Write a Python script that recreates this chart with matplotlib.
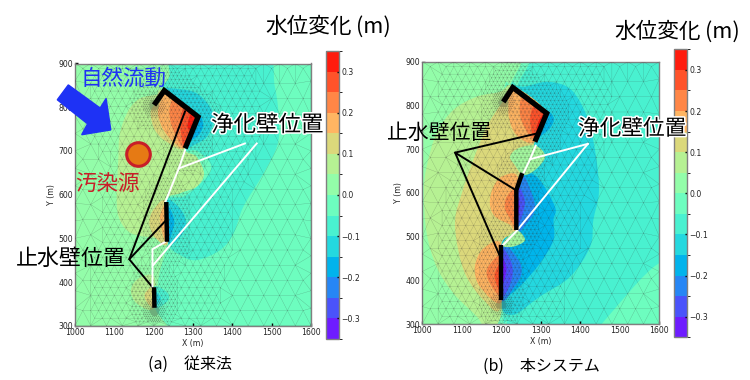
import numpy as np
import matplotlib
matplotlib.use('Agg')
import matplotlib.pyplot as plt
import matplotlib.patheffects as pe
from matplotlib.cm import ScalarMappable
from matplotlib.colors import BoundaryNorm, ListedColormap
from matplotlib.patches import PathPatch
from matplotlib.path import Path
from matplotlib.tri import Triangulation

JP = ['Noto Sans CJK JP', 'DejaVu Sans']

levels = np.arange(-0.35, 0.351, 0.05)
cbar_ticks = [-0.3, -0.2, -0.1, 0.0, 0.1, 0.2, 0.3]
x_ticks = [1000, 1100, 1200, 1300, 1400, 1500, 1600]
y_ticks = [300, 400, 500, 600, 700, 800, 900]

# ---- panel (a): walls and leader lines
a_wall1_x = [1201, 1227, 1313, 1280]
a_wall1_y = [805, 838, 778, 706]
a_wall2_x = [1232, 1234]
a_wall2_y = [583, 492]
a_wall3_x = [1201, 1202]
a_wall3_y = [388, 341]
a_black_x = [[1280, 1138, 1197], [1138, 1230]]
a_black_y = [[791, 452, 388], [452, 540]]
a_white_x = [[1432, 1264], [1280, 1264, 1230], [1462, 1199], [1197, 1197, 1230]]
a_white_y = [[717, 660], [702, 660, 584], [717, 439], [389, 475, 492]]
source_x = [1161]
source_y = [692]
arrow_x = [983, 1064, 1079, 1091, 1017, 1032, 955]
arrow_y = [851, 798, 820, 748, 737, 762, 817]

# ---- panel (a): contour outlines, one band value each
a_left_x = [960, 1245, 1228, 1200, 1232, 1234, 1215, 1205, 1225, 960]
a_left_y = [940, 940, 840, 700, 580, 490, 420, 340, 280, 280]
a_teal_x = [1258, 1475, 1508, 1519, 1513, 1479, 1428, 1403, 1369, 1309, 1267, 1237, 1232, 1280, 1335, 1345, 1310, 1280, 1313, 1226, 1240]
a_teal_y = [940, 940, 847, 763, 709, 648, 572, 511, 473, 450, 462, 490, 585, 597, 640, 670, 700, 706, 778, 838, 870]
a_blob_x = [1208, 1165, 1136, 1114, 1110, 1106, 1114, 1144, 1208, 1237, 1230, 1267, 1309, 1328, 1309, 1280, 1313, 1226, 1210]
a_blob_y = [829, 820, 793, 740, 679, 587, 542, 511, 500, 492, 584, 603, 618, 648, 687, 706, 778, 838, 832]
a_top125_x = [1192, 1203, 1233, 1280, 1313, 1227, 1201]
a_top125_y = [786, 748, 721, 706, 778, 838, 805]
a_top175_x = [1212, 1212, 1225, 1250, 1280, 1313, 1227, 1218]
a_top175_y = [801, 778, 748, 721, 708, 778, 838, 815]
a_top225_x = [1246, 1240, 1250, 1280, 1313, 1255]
a_top225_y = [816, 786, 748, 708, 778, 822]
a_top275_x = [1275, 1267, 1280, 1313, 1285]
a_top275_y = [797, 763, 708, 778, 800]
a_top325_x = [1297, 1286, 1301, 1314]
a_top325_y = [790, 755, 748, 778]
a_circ_x = [1229, 1267, 1309, 1343, 1352, 1335, 1301, 1280, 1313]
a_circ_y = [838, 841, 832, 801, 771, 732, 713, 706, 778]
a_corner_x = [1314, 1326, 1314, 1292, 1282]
a_corner_y = [778, 759, 736, 721, 708]
a_w2cyan_x = [1233, 1267, 1282, 1271, 1237]
a_w2cyan_y = [584, 568, 538, 507, 488]
a_w2blue_x = [1235, 1252, 1246, 1236]
a_w2blue_y = [572, 542, 511, 492]
a_w2warm_x = [1231, 1199, 1189, 1203, 1236]
a_w2warm_y = [584, 565, 534, 503, 488]
a_w2orange_x = [1231, 1216, 1225, 1233]
a_w2orange_y = [576, 549, 503, 492]
a_w3lime_x = [1201, 1161, 1142, 1157, 1199]
a_w3lime_y = [412, 408, 381, 351, 339]
a_w3warm_x = [1201, 1178, 1182, 1201]
a_w3warm_y = [389, 374, 355, 341]
a_w3teal_x = [1201, 1233, 1237, 1203]
a_w3teal_y = [389, 377, 358, 341]
a_w3cyan_x = [1202, 1218, 1203]
a_w3cyan_y = [380, 362, 345]
a_regions = [
    (0.025, a_left_x, a_left_y), (-0.075, a_teal_x, a_teal_y), (0.075, a_blob_x, a_blob_y),
    (0.125, a_top125_x, a_top125_y), (0.175, a_top175_x, a_top175_y), (0.225, a_top225_x, a_top225_y),
    (0.275, a_top275_x, a_top275_y), (0.325, a_top325_x, a_top325_y), (-0.125, a_circ_x, a_circ_y),
    (-0.175, a_corner_x, a_corner_y), (-0.125, a_w2cyan_x, a_w2cyan_y), (-0.175, a_w2blue_x, a_w2blue_y),
    (0.125, a_w2warm_x, a_w2warm_y), (0.175, a_w2orange_x, a_w2orange_y), (0.075, a_w3lime_x, a_w3lime_y),
    (0.125, a_w3warm_x, a_w3warm_y), (-0.075, a_w3teal_x, a_w3teal_y), (-0.125, a_w3cyan_x, a_w3cyan_y),
]

# ---- panel (b): walls and leader lines
b_wall1_x = [1205, 1229, 1315, 1285]
b_wall1_y = [808, 841, 782, 717]
b_wall2_x = [1253, 1238, 1238]
b_wall2_y = [645, 606, 515]
b_wall3_x = [1200, 1200]
b_wall3_y = [481, 355]
b_black_x = [[1291, 1083, 1197], [1083, 1237]]
b_black_y = [[736, 692, 454], [692, 606]]
b_white_x = [[1419, 1273], [1287, 1273, 1254], [1419, 1239, 1205]]
b_white_y = [[712, 677], [708, 677, 641], [712, 513, 481]]

# ---- panel (b): contour outlines
b_corner_x = [1660, 1600, 1454, 1430, 1660]
b_corner_y = [390, 439, 300, 270, 270]
b_mint_x = [960, 1260, 1243, 1218, 1205, 1213, 1185, 960]
b_mint_y = [940, 940, 850, 810, 340, 320, 275, 275]
b_left_x = [960, 1240, 1225, 1205, 1190, 1180, 1150, 960]
b_left_y = [940, 940, 850, 810, 345, 325, 275, 275]
b_cyan_x = [1230, 1260, 1319, 1378, 1420, 1441, 1447, 1433, 1425, 1374, 1298, 1230, 1200, 1238, 1238, 1253, 1285, 1315]
b_cyan_y = [841, 843, 854, 835, 767, 675, 599, 538, 477, 408, 363, 321, 355, 515, 606, 645, 717, 782]
b_lime_x = [1197, 1138, 1079, 1036, 1011, 1004, 1011, 1036, 1079, 1138, 1165, 1200, 1200, 1238, 1238, 1253, 1285, 1315, 1230]
b_lime_y = [831, 820, 790, 736, 660, 599, 508, 431, 370, 317, 285, 325, 481, 515, 606, 645, 717, 782, 845]
b_khaki_x = [1201, 1163, 1129, 1100, 1083, 1091, 1112, 1155, 1197, 1200, 1238, 1238, 1253, 1285, 1315, 1230, 1205]
b_khaki_y = [805, 751, 675, 599, 538, 469, 408, 355, 336, 481, 515, 606, 645, 717, 782, 841, 808]
b_top175_x = [1230, 1218, 1226, 1247, 1284, 1315]
b_top175_y = [841, 790, 751, 725, 717, 782]
b_top225_x = [1256, 1247, 1260, 1284, 1315]
b_top225_y = [820, 782, 748, 725, 782]
b_top275_x = [1285, 1273, 1285, 1315]
b_top275_y = [801, 767, 729, 782]
b_top325_x = [1311, 1294, 1289, 1315]
b_top325_y = [786, 763, 736, 782]
b_topblue_x = [1315, 1333, 1323, 1294, 1285]
b_topblue_y = [782, 770, 748, 725, 717]
b_blue_x = [1256, 1294, 1336, 1332, 1332, 1298, 1247, 1205, 1200, 1200, 1238, 1238]
b_blue_y = [645, 633, 568, 538, 492, 439, 386, 355, 355, 481, 515, 606]
b_w2o175_x = [1243, 1205, 1180, 1171, 1184, 1222, 1238]
b_w2o175_y = [633, 639, 614, 576, 546, 527, 515]
b_w2o225_x = [1235, 1214, 1209, 1222, 1238]
b_w2o225_y = [603, 591, 565, 542, 523]
b_w2b225_x = [1252, 1277, 1285, 1264, 1239]
b_w2b225_y = [637, 599, 561, 530, 515]
b_w2b275_x = [1243, 1260, 1239]
b_w2b275_y = [610, 576, 523]
b_w2b325_x = [1239, 1247, 1239]
b_w2b325_y = [599, 568, 538]
b_w3o175_x = [1201, 1155, 1133, 1146, 1201]
b_w3o175_y = [481, 473, 431, 385, 351]
b_w3o225_x = [1201, 1167, 1167, 1201]
b_w3o225_y = [454, 431, 401, 363]
b_w3o275_x = [1201, 1183, 1201]
b_w3o275_y = [440, 410, 370]
b_w3b225_x = [1200, 1243, 1251, 1234, 1200]
b_w3b225_y = [481, 447, 416, 386, 356]
b_w3b275_x = [1200, 1226, 1226, 1200]
b_w3b275_y = [470, 439, 401, 363]
b_w3b325_x = [1200, 1213, 1200]
b_w3b325_y = [454, 424, 386]
b_bub1_x = [1287, 1311, 1285, 1255, 1234, 1222, 1243]
b_bub1_y = [708, 683, 652, 641, 664, 683, 702]
b_bub2_x = [1237, 1260, 1230, 1201]
b_bub2_y = [514, 492, 477, 481]
b_regions = [
    (-0.025, b_corner_x, b_corner_y), (-0.025, b_mint_x, b_mint_y), (0.025, b_left_x, b_left_y),
    (-0.125, b_cyan_x, b_cyan_y), (0.075, b_lime_x, b_lime_y), (0.125, b_khaki_x, b_khaki_y),
    (0.175, b_top175_x, b_top175_y), (0.225, b_top225_x, b_top225_y), (0.275, b_top275_x, b_top275_y),
    (0.325, b_top325_x, b_top325_y), (-0.175, b_topblue_x, b_topblue_y), (-0.175, b_blue_x, b_blue_y),
    (0.175, b_w2o175_x, b_w2o175_y), (0.225, b_w2o225_x, b_w2o225_y), (-0.225, b_w2b225_x, b_w2b225_y),
    (-0.275, b_w2b275_x, b_w2b275_y), (-0.325, b_w2b325_x, b_w2b325_y), (0.175, b_w3o175_x, b_w3o175_y),
    (0.225, b_w3o225_x, b_w3o225_y), (0.275, b_w3o275_x, b_w3o275_y), (-0.225, b_w3b225_x, b_w3b225_y),
    (-0.275, b_w3b275_x, b_w3b275_y), (-0.325, b_w3b325_x, b_w3b325_y), (0.05, b_bub1_x, b_bub1_y),
    (0.05, b_bub2_x, b_bub2_y),
]

cmap = plt.get_cmap('rainbow')
band_norm = plt.Normalize(-0.35, 0.35)
bar_cmap = ListedColormap(cmap(band_norm(levels[:-1] + 0.025)))


def contorno(ax, valor, xs, ys):
    # closed outline through the read points, drawn as bezier segments
    p = np.column_stack([xs, ys]).astype(float)
    n = len(p)
    verts = [p[0]]
    codes = [Path.MOVETO]
    for i in range(n):
        p0, p1, p2, p3 = p[i - 1], p[i], p[(i + 1) % n], p[(i + 2) % n]
        verts += [p1 + (p2 - p0) / 6, p2 - (p3 - p1) / 6, p2]
        codes += [Path.CURVE4] * 3
    ax.add_patch(PathPatch(Path(verts, codes), fc=cmap(band_norm(valor)), ec='none', zorder=2))


def distancia(px, py, xs, ys):
    d = np.full(px.shape, np.inf)
    for i in range(len(xs) - 1):
        a = np.array([xs[i], ys[i]], float)
        b = np.array([xs[i + 1], ys[i + 1]], float)
        t = ((px - a[0]) * (b[0] - a[0]) + (py - a[1]) * (b[1] - a[1])) / ((b - a) ** 2).sum()
        t = np.clip(t, 0, 1)
        d = np.minimum(d, np.hypot(px - a[0] - t * (b[0] - a[0]), py - a[1] - t * (b[1] - a[1])))
    return d


def malla(muros, puntas):
    # nested triangular lattice, finer close to the walls
    pts = []
    for paso, alcance in [(40, 1e9), (20, 170), (10, 60), (5, -1), (2.5, -1)]:
        nj = int(600 / (paso * np.sqrt(3) / 2)) + 1
        ni = int(600 / paso) + 1
        jj, ii = np.mgrid[0:nj + 1, -nj:ni + 1]
        px = 1000 + paso * (ii + jj / 2)
        py = 300 + paso * jj * np.sqrt(3) / 2
        dentro = (px > 1000) & (px < 1600) & (py > 300) & (py < 900)
        px, py = px[dentro], py[dentro]
        d = np.min([distancia(px, py, *m) for m in muros], axis=0)
        sel = d < alcance
        if paso == 5:
            sel = np.min([np.hypot(px - a, py - b) for a, b in puntas], axis=0) < 28
        if paso == 2.5:
            sel = np.min([np.hypot(px - a, py - b) for a, b in puntas], axis=0) < 12
        pts.append(np.column_stack([px[sel], py[sel]]))
    borde = np.arange(1000, 1601, 40.0)
    borde_y = np.arange(300, 901, 40.0)
    pts.append(np.column_stack([borde, np.full(borde.size, 300.0)]))
    pts.append(np.column_stack([borde, np.full(borde.size, 900.0)]))
    pts.append(np.column_stack([np.full(borde_y.size, 1000.0), borde_y]))
    pts.append(np.column_stack([np.full(borde_y.size, 1600.0), borde_y]))
    pts = np.unique(np.round(np.vstack(pts), 2), axis=0)
    return Triangulation(pts[:, 0], pts[:, 1])


def panel(fig, caja, regiones, fondo, muros, puntas, negras, blancas):
    l, t, r, b = caja
    ax = fig.add_axes([l / 750, 1 - b / 380, (r - l) / 750, (b - t) / 380])
    ax.set_facecolor(cmap(band_norm(fondo)))
    for valor, xs, ys in regiones:
        contorno(ax, valor, xs, ys)
    ax.triplot(malla(muros, puntas), color='#303030', lw=0.22, alpha=0.38, zorder=3)
    for xs, ys in negras:
        ax.plot(xs, ys, color='black', lw=1.4, zorder=5, solid_capstyle='round')
    for xs, ys in blancas:
        ax.plot(xs, ys, color='white', lw=1.4, zorder=5)
    for xs, ys, ancho in [(m[0], m[1], w) for m, w in zip(muros, [3.8, 3.2, 3.2])]:
        ax.plot(xs, ys, color='black', lw=ancho, zorder=6, solid_capstyle='butt', solid_joinstyle='miter')
    ax.set_xlim(1000, 1600)
    ax.set_ylim(300, 900)
    ax.set_xticks(x_ticks)
    ax.set_yticks(y_ticks)
    ax.tick_params(direction='in', length=2, width=1, pad=1.5, labelsize=5.6, labelcolor='#222222')
    ax.set_xlabel('X (m)', fontsize=5.6, labelpad=1.5, color='#222222')
    ax.set_ylabel('Y (m)', fontsize=5.6, labelpad=1.5, color='#222222')
    for s in ax.spines.values():
        s.set_color('#808080')
        s.set_linewidth(1)
    return ax


def barra(fig, caja):
    l, t, r, b = caja
    cax = fig.add_axes([l / 750, 1 - b / 380, (r - l) / 750, (b - t) / 380])
    sm = ScalarMappable(norm=BoundaryNorm(levels, bar_cmap.N), cmap=bar_cmap)
    cb = fig.colorbar(sm, cax=cax, ticks=cbar_ticks, spacing='proportional')
    cb.ax.tick_params(direction='in', length=1.5, width=1, pad=1.5, labelsize=5.6, labelcolor='#222222')
    cb.outline.set_edgecolor('#808080')
    cb.outline.set_linewidth(1)


def texto(fig, px, py, s, size, color='black', halo=False, ha='left'):
    t = fig.text(px / 750, 1 - py / 380, s, fontsize=size, color=color, family=JP, ha=ha, va='center', zorder=20)
    if halo:
        t.set_path_effects([pe.withStroke(linewidth=2.2, foreground='white')])


fig = plt.figure(figsize=(7.5, 3.8), dpi=100)

ax_a = panel(fig, (75, 63.5, 311, 325.7), a_regions, -0.025,
             [(a_wall1_x, a_wall1_y), (a_wall2_x, a_wall2_y), (a_wall3_x, a_wall3_y)],
             [(1201, 805), (1202, 335)], list(zip(a_black_x, a_black_y)), list(zip(a_white_x, a_white_y)))
ax_a.fill(arrow_x, arrow_y, color='#1e32f5', zorder=7, clip_on=False)
ax_a.plot(source_x, source_y, 'o', ms=17, mfc='#e67a14', mec='#c81e28', mew=2.2, zorder=7)

ax_b = panel(fig, (422.3, 61.7, 659.3, 324), b_regions, -0.075,
             [(b_wall1_x, b_wall1_y), (b_wall2_x, b_wall2_y), (b_wall3_x, b_wall3_y)],
             [(1205, 808), (1200, 345)], list(zip(b_black_x, b_black_y)), list(zip(b_white_x, b_white_y)))

barra(fig, (325.7, 51, 339, 339))
barra(fig, (674, 49.3, 687.3, 337.3))

texto(fig, 265, 27, '水位変化', 15.6)
texto(fig, 356, 27, '(m)', 15.6)
texto(fig, 614, 32, '水位変化', 15.6)
texto(fig, 705, 32, '(m)', 15.6)
texto(fig, 80, 79, '自然流動', 15.5, color='#1e32f5')
texto(fig, 75, 184, '汚染源', 15.5, color='#c81e28')
texto(fig, 16, 259, '止水壁位置', 15.8)
texto(fig, 211, 125, '浄化壁位置', 16.2, halo=True)
texto(fig, 387, 133, '止水壁位置', 15.0)
texto(fig, 578, 129, '浄化壁位置', 15.6, halo=True)
texto(fig, 190, 364, '(a)　従来法', 11.5, ha='center')
texto(fig, 541, 366, '(b)　本システム', 11.5, ha='center')

fig.savefig('out.png', dpi=100)
